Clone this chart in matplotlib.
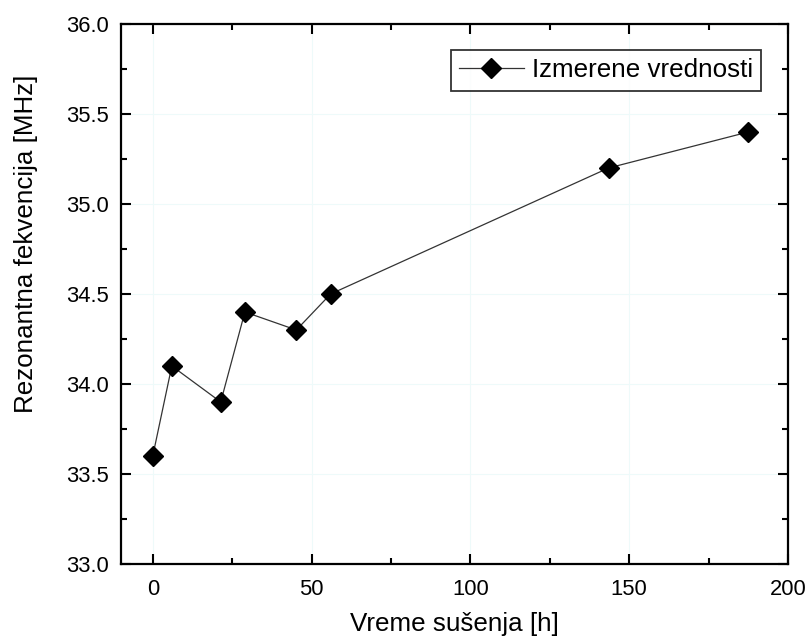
import matplotlib
matplotlib.use("Agg")
import matplotlib.pyplot as plt
from matplotlib.ticker import MultipleLocator

plt.rcParams['font.family'] = ['Liberation Sans', 'DejaVu Sans']

time_h = [0, 6, 21.4, 29, 45.2, 56, 143.5, 187.5]
freq_mhz = [33.6, 34.1, 33.9, 34.4, 34.3, 34.5, 35.2, 35.4]
series_label = "Izmerene vrednosti"
x_label = "Vreme sušenja [h]"
y_label = "Rezonantna fekvencija [MHz]"

fig = plt.figure(figsize=(8.08, 6.41), dpi=100)
ax = fig.add_axes([121/808, 1-564/641, (788-121)/808, (564-24)/641])

ax.plot(time_h, freq_mhz, color='#333333', lw=0.9, marker='D', ms=10,
        mfc='black', mec='black', label=series_label)

ax.set_xlim(-10, 200)
ax.set_ylim(33.0, 36.0)
ax.xaxis.set_major_locator(MultipleLocator(50))
ax.xaxis.set_minor_locator(MultipleLocator(25))
ax.yaxis.set_major_locator(MultipleLocator(0.5))
ax.yaxis.set_minor_locator(MultipleLocator(0.25))
ax.yaxis.set_major_formatter(plt.FormatStrFormatter('%.1f'))

ax.grid(True, which='major', color='#eefafa', lw=0.8)
ax.set_axisbelow(True)

ax.tick_params(which='both', direction='in', top=True, right=True,
               labelsize=15.8, width=1.5, colors='black')
ax.tick_params(axis='y', pad=9)
ax.tick_params(axis='x', pad=11)
ax.tick_params(which='major', length=7.5)
ax.tick_params(which='minor', length=4)
for s in ax.spines.values():
    s.set_linewidth(1.6)

ax.set_xlabel(x_label, fontsize=18.7)
ax.set_ylabel(y_label, fontsize=18.7)
ax.xaxis.set_label_coords(0.5, -(612 - 564) / 540)
ax.yaxis.set_label_coords((38 - 121) / 667, (564 - 244) / 540)

leg = ax.legend(loc='upper right', bbox_to_anchor=(1 - 27/667, 1 - 26/540),
                fontsize=18.7, frameon=True, fancybox=False, handlelength=2.5,
                borderpad=0.32, handletextpad=0.3, borderaxespad=0)
leg.get_frame().set_edgecolor('black')
leg.get_frame().set_linewidth(1.3)

fig.savefig("out.png", dpi=100)
